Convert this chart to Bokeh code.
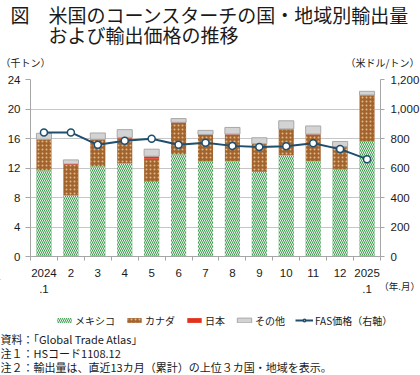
import numpy as np
from bokeh.plotting import figure
from bokeh.layouts import column, row
from bokeh.models import (Range1d, LinearAxis, FixedTicker, NumeralTickFormatter,
                          Legend, LegendItem, ColumnDataSource)
from bokeh.core.properties import value
from bokeh.embed import file_html
from bokeh.resources import INLINE

months = ["2024\n.1", "2", "3", "4", "5", "6", "7", "8", "9", "10", "11", "12", "2025\n.1"]
mexico = [11.7, 8.3, 12.25, 12.65, 10.15, 13.85, 12.9, 12.95, 11.5, 13.75, 12.95, 11.8, 15.6]
canada = [4.1, 4.1, 3.55, 3.35, 3.1, 4.25, 3.6, 3.6, 3.75, 3.5, 3.6, 2.95, 6.25]
japan = [0.1, 0.15, 0.1, 0.15, 0.35, 0.1, 0.05, 0.05, 0.05, 0.05, 0.05, 0.15, 0.05]
other = [0.8, 0.55, 0.85, 1.05, 0.95, 0.5, 0.55, 0.9, 0.8, 1.1, 1.1, 0.7, 0.5]
fas_price = [841, 841, 757, 784, 798, 757, 771, 750, 743, 748, 768, 728, 660]

title_fig = "図"
title1 = "米国のコーンスターチの国・地域別輸出量"
title2 = "および輸出価格の推移"
unit_left = "（千トン）"
unit_right = "（米ドル/トン）"
unit_x = "（年.月）"
notes = ["資料：「Global Trade Atlas」", "注１：HSコード1108.12",
         "注２：輸出量は、直近13カ月（累計）の上位３カ国・地域を表示。"]
legend_labels = ["メキシコ", "カナダ", "日本", "その他", "FAS価格（右軸）"]

JP = "Noto Sans CJK JP"
NUM = "Liberation Sans"
AX = "#a6a6a6"
TXT = "#1a1a1a"
LC = "#1f4e6e"

STY_M = dict(fill_color="#3f9c50", hatch_pattern="\\", hatch_color="white", hatch_scale=4,
             hatch_weight=0.9, line_color=None)
STY_C = dict(fill_color="#a3632d", hatch_pattern=".", hatch_color="#dcb98e", hatch_scale=4,
             hatch_weight=1.2, line_color=None)
STY_J = dict(fill_color="#e2321c", line_color=None)
STY_O = dict(fill_color="#d3d3d3", line_color="#a8a8a8", line_width=1)

W = 420
FL, FR, FT, FW, FH = 30, 40, 4, 350, 177   # main frame geometry (px)
HA = 75                                    # top block height
HB_BOTTOM = 22                             # main chart bottom border
HC = 375 - HA - FT - FH - HB_BOTTOM        # bottom block height


def blank(h):
    f = figure(width=W, height=h, x_range=Range1d(0, W), y_range=Range1d(h, 0),
               min_border=0, x_axis_location=None, y_axis_location=None,
               output_backend="svg", toolbar_location=None)
    f.grid.visible = False
    f.outline_line_color = None
    return f


# ---------- top: titles ----------
pa = blank(HA)
pa.text(x=[10], y=[13.5], text=[title_fig], text_font=value(JP), text_font_size="19px",
        text_baseline="middle", text_color=TXT)
pa.text(x=[48, 48], y=[13.5, 33.5], text=[title1, title2],
        text_font=value(JP), text_font_size="19px", text_baseline="middle",
        text_color=TXT)
pa.text(x=[0], y=[62], text=[unit_left], text_font=value(JP), text_font_size="10px",
        text_baseline="middle", text_color=TXT)
pa.text(x=[419], y=[62], text=[unit_right], text_font=value(JP), text_font_size="10px",
        text_baseline="middle", text_align="right", text_color=TXT)

# ---------- main chart ----------
xs = list(range(len(months)))
line1 = [m.split("\n")[0] for m in months]
line2 = [m.split("\n")[1] if "\n" in m else "" for m in months]
stack = np.cumsum(np.array([mexico, canada, japan, other]), axis=0)
src = ColumnDataSource(dict(
    x=xs, m0=[0] * len(xs), m1=stack[0], c1=stack[1], j1=stack[2], o1=stack[3],
    price=fas_price))

p = figure(frame_width=FW, frame_height=FH,
           min_border_left=FL, min_border_right=FR, min_border_top=FT,
           min_border_bottom=HB_BOTTOM,
           x_range=Range1d(-0.5, len(xs) - 0.5), y_range=Range1d(0, 24),
           output_backend="svg", toolbar_location=None)
p.outline_line_color = None
p.extra_y_ranges = {"price": Range1d(0, 1200)}

bw = 0.56
p.vbar(x="x", bottom="m0", top="m1", width=bw, source=src, **STY_M)
p.vbar(x="x", bottom="m1", top="c1", width=bw, source=src, **STY_C)
p.vbar(x="x", bottom="c1", top="j1", width=bw, source=src, **STY_J)
p.vbar(x="x", bottom="j1", top="o1", width=bw, source=src, **STY_O)
p.line(x="x", y="price", source=src, y_range_name="price", line_color=LC, line_width=2)
p.scatter(x="x", y="price", source=src, y_range_name="price", size=7,
          fill_color="white", line_color=LC, line_width=1.5)

p.xgrid.visible = False
p.ygrid.grid_line_color = "#c6c6c6"
p.ygrid.ticker = FixedTicker(ticks=[0, 4, 8, 12, 16, 20, 24])

ya = p.yaxis[0]
ya.ticker = FixedTicker(ticks=[0, 4, 8, 12, 16, 20, 24])
ya.axis_line_color = AX
ya.major_tick_line_color = AX
ya.major_tick_in = 0
ya.major_tick_out = 5
ya.minor_tick_line_color = None
ya.major_label_standoff = 5
ya.major_label_text_font = NUM
ya.major_label_text_font_size = "11.5px"
ya.major_label_text_color = TXT

ra = LinearAxis(y_range_name="price", ticker=FixedTicker(ticks=[0, 200, 400, 600, 800, 1000, 1200]),
                formatter=NumeralTickFormatter(format="0,0"))
ra.axis_line_color = AX
ra.major_tick_line_color = AX
ra.major_tick_in = 0
ra.major_tick_out = 4
ra.minor_tick_line_color = None
ra.major_label_standoff = 6
ra.major_label_text_font = NUM
ra.major_label_text_font_size = "11.5px"
ra.major_label_text_color = TXT
p.add_layout(ra, "right")

xa = p.xaxis[0]
xa.ticker = FixedTicker(ticks=xs, minor_ticks=[i - 0.5 for i in range(len(xs) + 1)])
xa.major_label_overrides = {i: t for i, t in enumerate(line1)}
xa.axis_line_color = AX
xa.major_tick_line_color = None
xa.minor_tick_line_color = AX
xa.minor_tick_in = 0
xa.minor_tick_out = 4
xa.major_label_standoff = 6
xa.major_label_text_font = NUM
xa.major_label_text_font_size = "11.5px"
xa.major_label_text_color = TXT

# ---------- bottom: 2nd tick-label row, unit, legend and notes ----------
pc = blank(HC)
k = FW / len(xs)
pc.extra_x_ranges = {"cat": Range1d(-0.5 - FL / k, len(xs) - 0.5 + FR / k)}
sec = [(x, t) for x, t in zip(xs, line2) if t]
pc.text(x=[s[0] for s in sec], y=[9] * len(sec), text=[s[1] for s in sec], x_range_name="cat",
        text_font=value(NUM), text_font_size="11.5px", text_baseline="middle",
        text_align="center", text_color=TXT)
pc.text(x=[419.5], y=[6], text=[unit_x], text_font=value(JP), text_font_size="9.5px",
        text_baseline="middle", text_align="right", text_color=TXT)

# legend-only renderers (their single point lies outside the visible area)
dummy = ColumnDataSource(dict(x=[-50], y=[-50], b=[-60]))
d_m = pc.vbar(x="x", bottom="b", top="y", width=1, source=dummy, **STY_M)
d_c = pc.vbar(x="x", bottom="b", top="y", width=1, source=dummy, **STY_C)
d_j = pc.vbar(x="x", bottom="b", top="y", width=1, source=dummy, **STY_J)
d_o = pc.vbar(x="x", bottom="b", top="y", width=1, source=dummy, **STY_O)
d_l = pc.line(x="x", y="y", source=dummy, line_color=LC, line_width=2)
d_s = pc.scatter(x="x", y="y", source=dummy, size=6, fill_color="white", line_color=LC,
                 line_width=1.5)
rend = [[d_m], [d_c], [d_j], [d_o], [d_l, d_s]]
legend = Legend(items=[LegendItem(label=l, renderers=r) for l, r in zip(legend_labels, rend)],
                orientation="horizontal", location=(55, HC - 48.5))
legend.label_text_font = JP
legend.label_text_font_size = "10px"
legend.label_text_color = TXT
legend.glyph_width = 18
legend.glyph_height = 6
legend.label_standoff = 2
legend.spacing = 10
legend.padding = 0
legend.margin = 0
legend.border_line_color = None
legend.background_fill_alpha = 0
pc.add_layout(legend)

pc.text(x=[0, 0, 0], y=[59, 73, 87], text=notes, text_font=value(JP), text_font_size="11px",
        text_baseline="middle", text_color=TXT)

layout = column(row(pa), row(p), row(pc), spacing=0)
open("out.html", "w").write(file_html(layout, INLINE))
